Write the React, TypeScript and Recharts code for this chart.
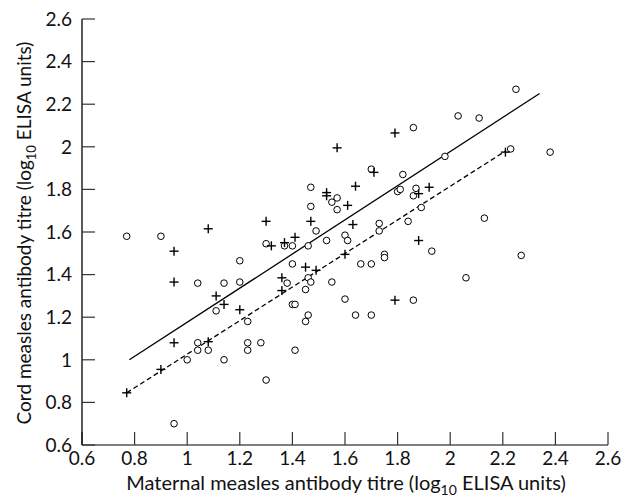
import React from 'react';
import { ScatterChart, Scatter, XAxis, YAxis } from 'recharts';

// open circles
const circleMaternal = [
  0.77, 0.9, 0.95, 1.0, 1.04, 1.04, 1.04, 1.08, 1.14, 1.14, 1.11, 1.2, 1.2, 1.23, 1.23, 1.23,
  1.28, 1.3, 1.3, 1.37, 1.38, 1.4, 1.4, 1.4, 1.41, 1.41, 1.45, 1.45, 1.46, 1.46, 1.46, 1.47,
  1.47, 1.47, 1.49, 1.53, 1.55, 1.55, 1.57, 1.57, 1.6, 1.6, 1.61, 1.64, 1.66, 1.7, 1.7, 1.7,
  1.73, 1.73, 1.75, 1.75, 1.8, 1.81, 1.82, 1.84, 1.86, 1.86, 1.86, 1.87, 1.89, 1.93, 1.98,
  2.03, 2.06, 2.11, 2.13, 2.23, 2.25, 2.27, 2.38,
];
const circleCord = [
  1.58, 1.58, 0.7, 1.0, 1.36, 1.08, 1.045, 1.045, 1.36, 1.0, 1.23, 1.465, 1.365, 1.18, 1.08, 1.045,
  1.08, 1.545, 0.905, 1.535, 1.36, 1.535, 1.45, 1.26, 1.26, 1.045, 1.33, 1.18, 1.535, 1.385, 1.21, 1.81,
  1.72, 1.365, 1.605, 1.56, 1.74, 1.365, 1.76, 1.705, 1.585, 1.285, 1.56, 1.21, 1.45, 1.45, 1.21, 1.895,
  1.64, 1.605, 1.495, 1.48, 1.79, 1.8, 1.87, 1.65, 2.09, 1.28, 1.77, 1.805, 1.715, 1.51, 1.955,
  2.145, 1.385, 2.135, 1.665, 1.99, 2.27, 1.49, 1.975,
];

// plus signs
const plusMaternal = [
  0.77, 0.9, 0.95, 0.95, 0.95, 1.08, 1.08, 1.11, 1.14, 1.2, 1.3, 1.32, 1.36, 1.36, 1.37, 1.41,
  1.45, 1.47, 1.49, 1.53, 1.53, 1.57, 1.6, 1.61, 1.63, 1.64, 1.71, 1.79, 1.79, 1.88, 1.88, 1.92, 2.21,
];
const plusCord = [
  0.845, 0.955, 1.51, 1.365, 1.08, 1.615, 1.085, 1.3, 1.26, 1.235, 1.65, 1.535, 1.385, 1.325, 1.55, 1.575,
  1.435, 1.65, 1.42, 1.785, 1.77, 1.995, 1.495, 1.725, 1.635, 1.815, 1.88, 2.065, 1.28, 1.78, 1.56, 1.81, 1.975,
];

// regression lines
const solidLine = [
  { x: 0.78, y: 1.0 },
  { x: 2.34, y: 2.25 },
];
const dashedLine = [
  { x: 0.77, y: 0.845 },
  { x: 2.21, y: 1.98 },
];

const ticks = [0.6, 0.8, 1, 1.2, 1.4, 1.6, 1.8, 2, 2.2, 2.4, 2.6];

const circles = circleMaternal.map((x, i) => ({ x, y: circleCord[i] }));
const pluses = plusMaternal.map((x, i) => ({ x, y: plusCord[i] }));

const FONT = 'Lato, "DejaVu Sans", sans-serif';

const Ring = (p: any) => (
  <circle cx={p.cx} cy={p.cy} r={3.3} fill="#fff" stroke="#000" strokeWidth={1} />
);

const Plus = (p: any) => (
  <g stroke="#000" strokeWidth={1.4}>
    <line x1={p.cx - 4.5} y1={p.cy} x2={p.cx + 4.5} y2={p.cy} />
    <line x1={p.cx} y1={p.cy - 4.5} x2={p.cx} y2={p.cy + 4.5} />
  </g>
);

const Nothing = () => <g />;

export default function App() {
  return (
    <div style={{ position: 'relative', width: 625, height: 500, background: '#fff' }}>
      <style>{`body { margin: 0; }`}</style>
      <ScatterChart width={625} height={500} margin={{ top: 19, right: 17, bottom: 0, left: 0 }}>
        <XAxis
          type="number"
          dataKey="x"
          domain={[0.6, 2.6]}
          ticks={ticks}
          height={55}
          tickSize={-13}
          tickMargin={20}
          axisLine={{ stroke: '#555', strokeWidth: 1.3 }}
          tickLine={{ stroke: '#333', strokeWidth: 1.2 }}
          tick={{ fill: '#111', fontSize: 19, fontFamily: FONT }}
        />
        <YAxis
          type="number"
          dataKey="y"
          domain={[0.6, 2.6]}
          ticks={ticks}
          width={82}
          tickSize={-13}
          tickMargin={23}
          axisLine={{ stroke: '#000', strokeWidth: 1.3 }}
          tickLine={{ stroke: '#333', strokeWidth: 1.2 }}
          tick={{ fill: '#111', fontSize: 19, fontFamily: FONT }}
        />
        <Scatter
          data={solidLine}
          line={{ stroke: '#000', strokeWidth: 1.3 }}
          shape={Nothing}
          isAnimationActive={false}
        />
        <Scatter
          data={dashedLine}
          line={{ stroke: '#000', strokeWidth: 1.3, strokeDasharray: '5 3' }}
          shape={Nothing}
          isAnimationActive={false}
        />
        <Scatter data={circles} shape={Ring} isAnimationActive={false} />
        <Scatter data={pluses} shape={Plus} isAnimationActive={false} />
      </ScatterChart>
      <svg
        width={625}
        height={500}
        style={{ position: 'absolute', left: 0, top: 0, pointerEvents: 'none' }}
        fontFamily={FONT}
        fill="#111"
      >
        <text x={346} y={490} textAnchor="middle" fontSize={20}>
          Maternal measles antibody titre (log
          <tspan fontSize={14} dy={5}>10</tspan>
          <tspan dy={-5}> ELISA units)</tspan>
        </text>
        <text x={31} y={233} textAnchor="middle" fontSize={19} transform="rotate(-90 31 233)">
          Cord measles antibody titre (log
          <tspan fontSize={13} dy={5}>10</tspan>
          <tspan dy={-5}> ELISA units)</tspan>
        </text>
      </svg>
    </div>
  );
}
